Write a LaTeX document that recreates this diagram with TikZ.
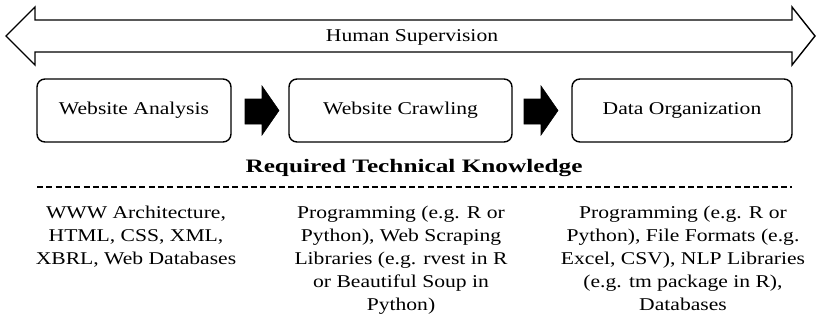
\documentclass[tikz,border=0pt]{standalone}
\usepackage{fontspec}
\setmainfont{Liberation Serif}[FakeStretch=1.2]
\newfontfamily\headfont{Liberation Serif Bold}[FakeStretch=1.33]
\begin{document}
\begin{tikzpicture}[x=1pt,y=-1pt,
  stage/.style={draw=black, line width=1.4pt, rounded corners=8pt, fill=white},
  label/.style={font=\fontsize{18}{23}\selectfont, inner sep=0pt},
  skill/.style={font=\fontsize{18}{23}\selectfont, inner sep=0pt, align=center, anchor=north},
  blockarrow/.style={fill=black, draw=black, line width=0.6pt, line join=miter},
  outline/.style={draw=black, line width=1.4pt, fill=white, line join=miter}]
\useasboundingbox (0,0) rectangle (817,322);

% double-headed supervision arrow
\draw[outline] (6,36) -- (35,7) -- (35,20) -- (792,20) -- (792,7) -- (815,36)
  -- (792,65) -- (792,52) -- (35,52) -- (35,65) -- cycle;
\node[label] (sup) at (412,37) {Human Supervision};

% process stages
\draw[stage] (37,79) rectangle (231,142);
\node[label] (s1) at (134,110) {Website Analysis};
\draw[stage] (289,79) rectangle (512,142);
\node[label] (s2) at (400.5,110) {Website Crawling};
\draw[stage] (572,79) rectangle (792,142);
\node[label] (s3) at (682,110) {Data Organization};

% block arrows between stages
\foreach \x in {245,524}{
  \draw[blockarrow] (\x,99) -- (\x+17,99) -- (\x+17,86) -- (\x+34,110.5)
    -- (\x+17,135) -- (\x+17,124) -- (\x,124) -- cycle;
}

% knowledge heading and separator
\node[inner sep=0pt, font=\headfont\fontsize{19}{23}\selectfont] (kh) at (414,168)
  {Required Technical Knowledge};
\coordinate (dl) at (37,187);
\coordinate (dr) at (792,187);
\draw[line width=2pt, dash pattern=on 6pt off 3.3pt] (dl) -- (dr);

% knowledge per stage
\node[skill] (k1) at (136,206) {WWW Architecture,\\HTML, CSS, XML,\\XBRL, Web Databases};
\node[skill] (k2) at (401,206) {Programming (e.g. R or\\Python), Web Scraping\\Libraries (e.g. rvest in R\\or Beautiful Soup in\\Python)};
\node[skill] (k3) at (683,206) {Programming (e.g. R or\\Python), File Formats (e.g.\\Excel, CSV), NLP Libraries\\(e.g. tm package in R),\\Databases};
\end{tikzpicture}
\end{document}
